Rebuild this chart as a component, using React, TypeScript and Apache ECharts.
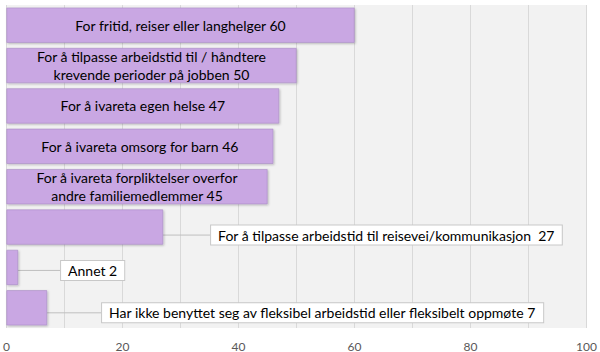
import React, { useEffect, useRef } from "react";
import * as echarts from "echarts";

const categories: string[] = [
  "For fritid, reiser eller langhelger",
  "For å tilpasse arbeidstid til / håndtere\nkrevende perioder på jobben",
  "For å ivareta egen helse",
  "For å ivareta omsorg for barn",
  "For å ivareta forpliktelser overfor\nandre familiemedlemmer",
  "For å tilpasse arbeidstid til reisevei/kommunikasjon ",
  "Annet",
  "Har ikke benyttet seg av fleksibel arbeidstid eller fleksibelt oppmøte",
];
const values: number[] = [60, 50, 47, 46, 45, 27, 2, 7];
const calloutItems: number[] = [5, 6, 7];
const xTicks: number[] = [0, 20, 40, 60, 80, 100];

// label offsets for callout boxes (styling only)
const calloutDx: Record<number, number> = { 5: 43, 6: 38, 7: 50 };
const calloutDy: Record<number, number> = { 5: 8, 6: 3, 7: 5 };

const FONT = "Lato, 'Liberation Sans', sans-serif";

export default function App() {
  const ref = useRef<HTMLDivElement>(null);
  useEffect(() => {
    if (!ref.current) return;
    const chart = echarts.init(ref.current, undefined, { renderer: "svg" });
    const data = values.map((v, i) => {
      const isCallout = calloutItems.includes(i);
      return {
        value: v,
        name: categories[i],
        label: isCallout
          ? {
              show: true,
              position: "right",
              distance: 5,
              backgroundColor: "#ffffff",
              borderColor: "#c8c8c8",
              borderWidth: 1,
              padding: [3, 7, 2, 7],
              color: "#000",
              fontSize: 14,
              fontFamily: FONT,
            }
          : {
              show: true,
              position: "inside",
              color: "#000",
              fontSize: 14,
              lineHeight: 18,
              fontFamily: FONT,
              align: "center",
            },
        labelLine: isCallout
          ? { show: true, lineStyle: { color: "#bfbfbf", width: 1 } }
          : { show: false },
      };
    });
    chart.setOption({
      animation: false,
      backgroundColor: "#ffffff",
      grid: {
        left: 5,
        right: 11,
        top: 5,
        bottom: 24,
        show: true,
        backgroundColor: "#f2f2f2",
        borderWidth: 0,
      },
      xAxis: {
        type: "value",
        min: xTicks[0],
        max: xTicks[xTicks.length - 1],
        interval: 20,
        axisLine: { show: false },
        axisTick: { show: false },
        axisLabel: {
          color: "#595959",
          fontSize: 12,
          fontFamily: FONT,
          margin: 12,
        },
        splitLine: { show: true, lineStyle: { color: "#d9d9d9", width: 1 } },
        minorTick: { show: false, splitNumber: 2 },
        minorSplitLine: { show: true, lineStyle: { color: "#d9d9d9", width: 1 } },
      },
      yAxis: {
        type: "category",
        data: categories,
        inverse: true,
        axisLine: { show: false },
        axisTick: { show: false },
        axisLabel: { show: false },
        splitLine: { show: false },
      },
      series: [
        {
          type: "bar",
          data,
          barCategoryGap: "13%",
          itemStyle: {
            color: "#c9a7e3",
            borderColor: "#a88cc4",
            borderWidth: 0.6,
            shadowColor: "rgba(0,0,0,0.25)",
            shadowBlur: 2,
            shadowOffsetX: 1,
            shadowOffsetY: 1,
          },
          label: {
            show: true,
            formatter: (p: any) => `${p.name} ${p.value}`,
          },
          labelLayout: (p: any) => {
            const i = p.dataIndex;
            if (calloutItems.includes(i)) {
              return { dx: calloutDx[i], dy: calloutDy[i] };
            }
            return {};
          },
        },
      ],
    });
    return () => chart.dispose();
  }, []);
  return <div ref={ref} style={{ width: 600, height: 352, position: "absolute", left: 0, top: 0 }} />;
}
